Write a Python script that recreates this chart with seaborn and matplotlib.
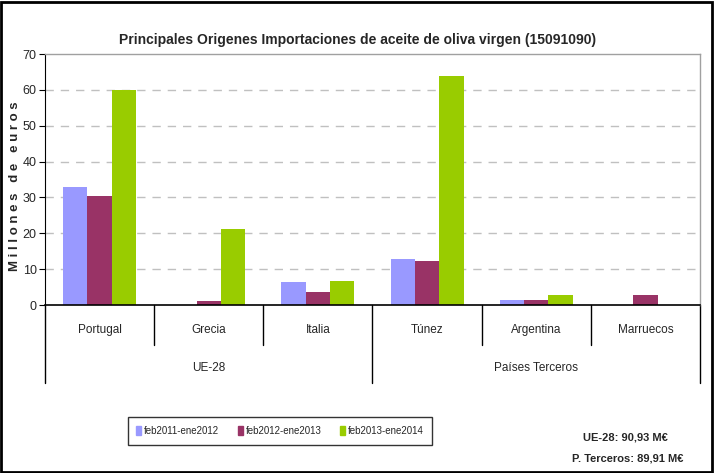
import matplotlib
matplotlib.use("Agg")
import matplotlib.pyplot as plt
import seaborn as sns
import pandas as pd
from matplotlib.lines import Line2D
from matplotlib.patches import Rectangle

categories = ["Portugal", "Grecia", "Italia", "Túnez", "Argentina", "Marruecos"]
groups = ["UE-28", "Países Terceros"]
series = ["feb2011-ene2012", "feb2012-ene2013", "feb2013-ene2014"]
v2011 = [32.9, 0.0, 6.4, 12.8, 1.4, 0.0]
v2012 = [30.4, 1.2, 3.6, 12.3, 1.4, 2.8]
v2013 = [60.0, 21.2, 6.7, 63.9, 2.8, 0.0]
colors = ["#9999FF", "#993366", "#99CC00"]
yticks = [0, 10, 20, 30, 40, 50, 60, 70]

rows = []
for s, vals in zip(series, [v2011, v2012, v2013]):
    for c, v in zip(categories, vals):
        rows.append({"cat": c, "serie": s, "val": v})
df = pd.DataFrame(rows)

sns.set_style("white")
plt.rcParams["font.family"] = ["Liberation Sans", "DejaVu Sans"]

fig = plt.figure(figsize=(7.16, 4.73), dpi=100)
ax = fig.add_axes([45/716, 1-305/473, 655/716, 251/473])

sns.barplot(data=df, x="cat", y="val", hue="serie", palette=colors,
            width=0.67, gap=0, saturation=1, ax=ax, legend=False, order=categories,
            linewidth=0, edgecolor="none")

ax.set_ylim(0, 70)
ax.set_xlim(-0.5, 5.5)
ax.set_yticks(yticks)
ax.set_yticklabels([str(t) for t in yticks], fontsize=9)
ax.tick_params(axis="y", length=4, direction="out", left=True, pad=2, color="black")
ax.set_xticks([])
ax.set_xlabel("")
ax.set_ylabel("M i l l o n e s   d e   e u r o s", fontsize=9.5, fontweight="bold")
ax.yaxis.set_label_coords(-24/655, 0.474)
for y in yticks[1:-1]:
    ax.axhline(y, color="#C0C0C0", lw=1, ls=(0, (6, 5)), zorder=0)
for side in ["top", "right"]:
    ax.spines[side].set_color("#A0A0A0")
    ax.spines[side].set_linewidth(1)
ax.spines["left"].set_color("black")
ax.spines["bottom"].set_color("black")
ax.spines["bottom"].set_linewidth(1.2)

# category axis labels and dividers
y_cat_bottom = -40/251
y_grp_bottom = -78/251
trans = ax.get_xaxis_transform()
for i in range(7):
    x = i - 0.5
    yb = y_grp_bottom if i in (0, 3, 6) else y_cat_bottom
    ax.add_line(Line2D([x, x], [0, yb], transform=trans, color="black", lw=1, clip_on=False))
for i, c in enumerate(categories):
    ax.text(i, -25/251, c, transform=trans, ha="center", va="center", fontsize=8.5)
ax.text(1, -63/251, groups[0], transform=trans, ha="center", va="center", fontsize=8.5)
ax.text(4, -63/251, groups[1], transform=trans, ha="center", va="center", fontsize=8.5)

fig.text(358/716, 1-40/473, "Principales Origenes Importaciones de aceite de oliva virgen (15091090)",
         ha="center", va="center", fontsize=10, fontweight="bold")

# legend
handles = [Rectangle((0, 0), 1, 1, color=c) for c in colors]
leg = fig.legend(handles, series, loc="center", bbox_to_anchor=(280/716, 1-431/473),
                 ncol=3, frameon=True, fontsize=7, handlelength=0.5, handleheight=1.1,
                 handletextpad=0.3, columnspacing=1.9, borderpad=0.9, fancybox=False)
leg.get_frame().set_edgecolor("black")
leg.get_frame().set_linewidth(1)

fig.text(625/716, 1-437/473, "UE-28: 90,93 M€", ha="center", va="center", fontsize=8, fontweight="bold")
fig.text(628/716, 1-458/473, "P. Terceros: 89,91 M€", ha="center", va="center", fontsize=8, fontweight="bold")

# outer border
fig.add_artist(Rectangle((0.002, 0.002), 0.993, 0.993, transform=fig.transFigure,
                         fill=False, edgecolor="black", lw=2))

fig.savefig("out.png", dpi=100)
